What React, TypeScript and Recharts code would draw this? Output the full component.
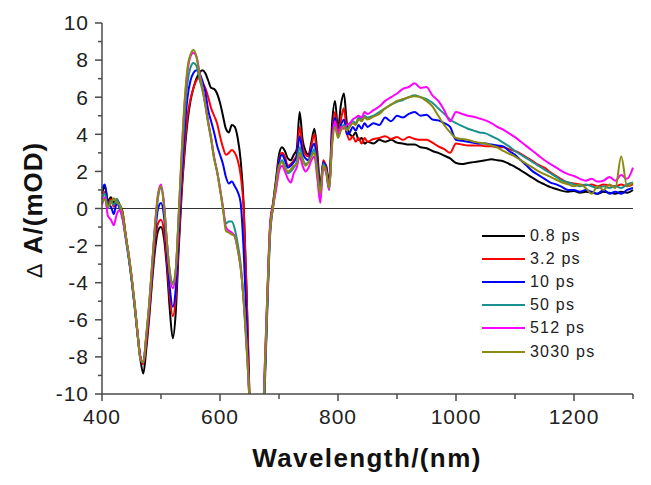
import React from 'react'
import {
  ComposedChart,
  Line,
  XAxis,
  YAxis,
  ReferenceLine,
  Legend,
} from 'recharts'

// wavelength grid (nm)
const wl = [
  400, 405, 410, 415, 420, 425, 430, 435, 440, 445, 450, 455, 460, 465, 470, 475, 480, 485, 490, 495,
  500, 505, 510, 515, 520, 525, 530, 535, 540, 545, 550, 555, 560, 565, 570, 575, 580, 585, 590, 595,
  600, 605, 610, 615, 620, 625, 630, 635, 640, 645, 650, 655, 660, 665, 670, 675, 680, 685, 690, 695,
  700, 705, 710, 715, 720, 725, 730, 735, 740, 745, 750, 755, 760, 765, 770, 775, 780, 785, 790, 795,
  800, 805, 810, 815, 820, 825, 830, 835, 840, 845, 850,
  860, 870, 880, 890, 900, 910, 920, 930, 940, 950, 960, 970, 980, 990, 1000, 1010, 1020, 1030, 1040,
  1050, 1060, 1070, 1080, 1090, 1100, 1110, 1120, 1130, 1140, 1150, 1160, 1170, 1180, 1190, 1200, 1210,
  1220, 1230, 1240, 1250, 1260, 1270, 1280, 1290, 1300,
]

const ps08 = [
  0.8, 1.2, 0.4, 0.6, 0.3, 0.5, 0.2, -0.2, -1.4, -2.5, -3.7, -5.1, -6.7, -8.1, -8.9, -7.6, -5.9, -3.9, -2.2, -1.2,
  -1.0, -1.6, -3.2, -5.5, -7.0, -5.6, -2.2, 0.8, 3.0, 4.7, 5.8, 6.5, 7.0, 7.3, 7.45, 7.3, 6.9, 6.5, 6.45, 6.2,
  5.7, 5.0, 4.3, 4.1, 4.5, 4.4, 3.8, 2.6, 0.3, -4.4, -10.2, -16, -22, -22, -16, -10, -5.2, -1.0, 0.3, 1.6,
  2.9, 3.3, 3.1, 2.7, 2.6, 2.9, 3.2, 5.2, 3.7, 3.1, 2.9, 3.6, 4.3, 3.0, 1.2, 2.5, 2.3, 1.4, 4.6, 5.8,
  4.3, 5.6, 6.2, 4.6, 4.0, 3.9, 4.1, 3.7, 3.8, 3.5, 3.6,
  3.5, 3.7, 3.6, 3.7, 3.55, 3.5, 3.45, 3.45, 3.3, 3.25, 3.1, 3.0, 2.85, 2.7, 2.45, 2.4, 2.45, 2.5, 2.55,
  2.6, 2.65, 2.6, 2.55, 2.4, 2.25, 2.05, 1.85, 1.65, 1.45, 1.3, 1.15, 1.05, 0.95, 0.9, 0.95, 0.85,
  0.9, 0.85, 0.8, 0.9, 0.85, 0.8, 0.9, 0.85, 1.0,
]

const ps32 = [
  0.5, 0.9, 0.2, 0.5, 0.1, 0.4, 0.1, -0.3, -1.4, -2.5, -3.7, -5.1, -6.6, -8.0, -8.4, -7.3, -5.7, -3.7, -1.8, -0.8,
  -0.6, -1.2, -2.8, -4.8, -5.8, -4.8, -1.8, 1.0, 3.3, 5.0, 5.9, 6.5, 6.9, 7.05, 6.8, 6.5, 6.0, 5.4, 5.0, 4.6,
  3.9, 3.3, 2.9, 3.0, 3.15, 3.0, 2.6, 1.8, 0.0, -4.5, -10.2, -16, -22, -22, -15, -9.4, -4.8, -0.8, 0.3, 1.4,
  2.6, 3.0, 2.8, 2.3, 2.4, 2.6, 2.9, 4.4, 3.3, 2.9, 2.8, 3.4, 4.0, 2.6, 0.9, 2.6, 2.2, 1.2, 4.0, 5.2,
  4.0, 4.8, 5.4, 4.1, 3.7, 3.9, 3.6, 3.8, 3.5, 3.8, 3.6,
  3.75, 3.8, 3.9, 3.75, 3.85, 3.7, 3.85, 3.75, 3.7, 3.7, 3.55, 3.35, 3.2, 3.0, 3.5, 3.45, 3.4, 3.4, 3.4,
  3.35, 3.35, 3.3, 3.3, 3.2, 3.1, 2.95, 2.75, 2.55, 2.35, 2.2, 1.95, 1.75, 1.55, 1.4, 1.35, 1.3,
  1.25, 1.3, 1.2, 1.3, 1.25, 1.2, 1.3, 1.2, 1.3,
]

const ps10 = [
  1.1, 1.3, 0.2, 0.1, -0.3, 0.3, 0.0, -0.5, -1.5, -2.6, -3.8, -5.2, -6.7, -8.0, -8.3, -7.0, -5.4, -3.4, -1.4, 0.0,
  0.3, -0.4, -2.3, -4.3, -5.3, -4.3, -1.3, 1.6, 4.2, 6.0, 6.9, 7.3, 7.45, 7.3, 6.9, 6.3, 5.3, 4.7, 4.1, 3.4,
  2.9, 2.4, 1.7, 1.35, 1.45, 1.2, 0.9, 0.3, -2.2, -6.0, -10.4, -16, -22, -22, -16, -10.5, -5.6, -1.4, 0.1, 1.3,
  2.5, 2.9, 2.6, 2.2, 2.3, 2.5, 2.8, 3.9, 3.0, 2.7, 2.6, 3.2, 3.5, 2.3, 0.8, 2.5, 2.1, 1.1, 3.8, 4.9,
  3.9, 4.5, 4.8, 4.0, 4.1, 4.4, 4.2, 4.5, 4.3, 4.6, 4.4,
  4.6, 4.5, 4.9, 4.7, 5.0, 4.9, 5.1, 5.2, 5.0, 5.05, 4.8, 4.75, 4.6, 4.4, 3.7, 3.65, 3.6, 3.55, 3.5,
  3.5, 3.45, 3.4, 3.35, 3.1, 2.9, 2.6, 2.3, 2.0, 1.8, 1.6, 1.4, 1.3, 1.15, 1.0, 1.0, 0.9,
  1.0, 0.9, 0.8, 1.0, 0.8, 0.9, 0.8, 1.0, 1.1,
]

const ps50 = [
  0.6, 0.8, 0.0, 0.4, 0.2, 0.5, 0.1, -0.5, -1.6, -2.6, -3.8, -5.2, -6.7, -8.1, -8.3, -6.9, -5.2, -3.1, -1.0, 0.6,
  1.1, 0.2, -1.8, -3.4, -4.0, -3.3, -0.5, 2.5, 5.0, 6.8, 7.6, 7.85, 7.7, 7.0, 6.4, 5.6, 4.6, 3.7, 2.7, 2.0,
  1.1, 0.0, -0.8, -0.7, -0.7, -1.1, -1.9, -3.0, -5.0, -7.5, -10.5, -16, -22, -22, -16, -10, -5.2, -1.1, 0.2, 1.2,
  2.2, 2.6, 2.3, 1.9, 2.0, 2.2, 2.5, 3.3, 2.7, 2.4, 2.5, 2.9, 3.2, 2.0, 0.7, 2.4, 2.0, 1.0, 3.6, 4.6,
  3.9, 4.3, 4.5, 4.3, 4.5, 4.7, 4.6, 4.9, 4.8, 5.0, 4.9,
  5.0, 5.2, 5.4, 5.6, 5.75, 5.85, 6.0, 6.1, 6.0, 5.9, 5.7, 5.4, 5.1, 4.8, 4.6, 4.45, 4.3, 4.2, 4.1,
  4.05, 3.9, 3.75, 3.55, 3.35, 3.1, 2.9, 2.7, 2.5, 2.3, 2.1, 1.9, 1.7, 1.5, 1.4, 1.3, 1.2,
  1.3, 1.2, 1.1, 1.2, 1.1, 1.2, 1.1, 1.3, 1.4,
]

const ps512 = [
  0.2, 0.6, -0.4, -0.6, -0.9, -0.3, -0.1, -0.6, -1.5, -2.4, -3.6, -5.0, -6.6, -8.0, -8.3, -6.9, -5.2, -3.0, -0.8, 0.8,
  1.3, 0.3, -1.8, -3.6, -4.3, -3.4, -0.4, 2.9, 5.6, 7.4, 8.2, 8.4, 8.2, 7.4, 6.6, 5.7, 4.7, 3.8, 2.8, 2.0,
  1.1, 0.1, -1.0, -1.2, -1.3, -1.5, -2.2, -3.2, -4.9, -7.3, -10.5, -16, -22, -22, -15, -9.3, -4.9, -1.0, 0.1, 1.0,
  2.0, 2.3, 2.0, 1.6, 1.4, 1.9, 2.2, 2.8, 2.3, 2.0, 2.2, 2.6, 2.8, 1.6, 0.3, 2.2, 1.9, 1.0, 3.6, 4.7,
  4.0, 4.4, 4.3, 4.5, 4.6, 4.8, 4.9, 5.0, 4.9, 5.2, 5.1,
  5.3, 5.5, 5.8, 6.0, 6.2, 6.45, 6.55, 6.75, 6.5, 6.55, 6.1, 5.8, 5.3, 4.7, 5.2, 5.1, 5.0, 4.95, 4.85,
  4.75, 4.6, 4.4, 4.25, 4.05, 3.85, 3.6, 3.35, 3.1, 2.85, 2.6, 2.4, 2.2, 2.0, 1.85, 1.75, 1.6,
  1.5, 1.6, 1.45, 1.5, 1.7, 1.5, 1.8, 1.6, 2.2,
]

const ps3030 = [
  0.3, 0.5, 0.1, 0.3, 0.55, 0.3, 0.2, -0.3, -1.4, -2.4, -3.6, -5.0, -6.6, -8.1, -8.3, -6.8, -5.1, -3.0, -0.9, 0.7,
  1.2, 0.2, -1.8, -3.5, -4.1, -3.3, -0.3, 3.0, 5.8, 7.6, 8.3, 8.55, 8.2, 7.3, 6.5, 5.6, 4.6, 3.8, 2.7, 2.0,
  1.0, 0.0, -1.2, -1.3, -1.4, -1.5, -2.2, -3.2, -4.9, -7.3, -10.5, -16, -22, -22, -16, -9.8, -5.0, -1.2, 0.1, 1.3,
  2.3, 2.5, 2.2, 2.0, 2.1, 2.3, 2.4, 3.0, 2.6, 2.3, 2.5, 2.8, 3.0, 1.9, 0.8, 2.3, 2.0, 1.1, 3.4, 4.4,
  3.8, 4.2, 4.4, 4.2, 4.4, 4.6, 4.5, 4.8, 4.7, 4.9, 4.8,
  4.95, 5.1, 5.4, 5.6, 5.8, 5.9, 6.0, 6.05, 6.0, 5.8, 5.5, 5.0, 4.5, 4.1, 3.8, 3.75, 3.7, 3.6, 3.55,
  3.5, 3.4, 3.3, 3.1, 2.95, 2.8, 2.6, 2.4, 2.2, 2.0, 1.85, 1.7, 1.55, 1.4, 1.3, 1.2, 1.3,
  1.1, 0.8, 1.2, 1.0, 1.3, 1.1, 2.8, 1.2, 1.4,
]

const seriesNames = ['0.8 ps', '3.2 ps', '10 ps', '50 ps', '512 ps', '3030 ps']
const xTicks = [400, 500, 600, 700, 800, 900, 1000, 1100, 1200, 1300]
const yTicks = [-10, -9, -8, -7, -6, -5, -4, -3, -2, -1, 0, 1, 2, 3, 4, 5, 6, 7, 8, 9, 10]

const data = wl.map((w, i) => ({
  wl: w,
  a: ps08[i],
  b: ps32[i],
  c: ps10[i],
  d: ps50[i],
  e: ps512[i],
  f: ps3030[i],
}))

const FONT = '"Liberation Sans", Arial, sans-serif'
const AXIS = '#4a4a4a'

const XTick = ({ x, y, payload }: any) => {
  const v = payload.value
  const major = v % 200 === 0
  const axisY = y - 7 - 8
  return (
    <g>
      <line x1={x} x2={x} y1={axisY} y2={axisY + (major ? 7 : 5)} stroke={AXIS} strokeWidth={1.5} />
      {major && (
        <text x={x} y={y} dy="0.71em" textAnchor="middle" fontSize={21} letterSpacing={1} fill="#222" fontFamily={FONT}>
          {v}
        </text>
      )}
    </g>
  )
}

const YTick = ({ x, y, payload }: any) => {
  const v = payload.value
  const major = v % 2 === 0
  const axisX = x + 7 + 6
  return (
    <g>
      <line x1={axisX} x2={axisX - (major ? 7 : 4)} y1={y} y2={y} stroke={AXIS} strokeWidth={1.5} />
      {major && (
        <text x={x} y={y} dy="0.35em" textAnchor="end" fontSize={21} letterSpacing={1} fill="#222" fontFamily={FONT}>
          {v}
        </text>
      )}
    </g>
  )
}

const renderLegend = (props: any) => {
  const items = [...(props.payload || [])].sort(
    (p: any, q: any) => seriesNames.indexOf(p.value) - seriesNames.indexOf(q.value)
  )
  return (
    <div style={{ fontFamily: FONT, fontSize: 16, letterSpacing: 1.2, color: '#222' }}>
      {items.map((p: any) => (
        <div key={p.value} style={{ display: 'flex', alignItems: 'center', height: 23.2 }}>
          <span style={{ display: 'inline-block', width: 43, height: 2, background: p.color, marginRight: 5 }} />
          <span>{p.value}</span>
        </div>
      ))}
    </div>
  )
}

export default function App() {
  return (
    <div style={{ position: 'absolute', left: 0, top: 0, width: 651, height: 485, background: '#fff' }}>
      <ComposedChart width={651} height={485} data={data} margin={{ top: 23, right: 18, bottom: 0, left: 0 }}>
        <XAxis
          dataKey="wl"
          type="number"
          domain={[400, 1300]}
          ticks={xTicks}
          interval={0}
          height={91}
          tickSize={7}
          tickMargin={8}
          tickLine={false}
          tick={<XTick />}
          axisLine={{ stroke: AXIS, strokeWidth: 1.5 }}
          label={{
            content: () => (
              <text x={367} y={467} textAnchor="middle" fontSize={26} fontWeight="bold" letterSpacing={1.4} fill="#111" fontFamily={FONT}>
                Wavelength/(nm)
              </text>
            ),
          }}
        />
        <XAxis
          xAxisId="top"
          orientation="top"
          type="number"
          domain={[400, 1300]}
          height={0}
          tick={false}
          tickLine={false}
          axisLine={{ stroke: AXIS, strokeWidth: 1.5 }}
        />
        <YAxis
          type="number"
          domain={[-10, 10]}
          allowDataOverflow
          ticks={yTicks}
          interval={0}
          width={102}
          tickSize={7}
          tickMargin={6}
          tickLine={false}
          tick={<YTick />}
          axisLine={{ stroke: AXIS, strokeWidth: 1.5 }}
          label={{
            content: () => (
              <text
                transform="translate(42, 210) rotate(-90)"
                textAnchor="middle"
                fontSize={26}
                fontWeight="bold"
                letterSpacing={1}
                fill="#111"
                fontFamily={FONT}
              >
                <tspan fontWeight="normal" fontSize={22}>Δ</tspan> A/(mOD)
              </text>
            ),
          }}
        />
        <YAxis
          yAxisId="right"
          orientation="right"
          type="number"
          domain={[-10, 10]}
          width={0}
          tick={false}
          tickLine={false}
          axisLine={{ stroke: AXIS, strokeWidth: 1.5 }}
        />
        <ReferenceLine y={0} stroke="#333" strokeWidth={1.2} />
        <Line type="monotone" dataKey="a" name={seriesNames[0]} stroke="#000000" strokeWidth={2} dot={false} isAnimationActive={false} />
        <Line type="monotone" dataKey="b" name={seriesNames[1]} stroke="#ff0000" strokeWidth={2} dot={false} isAnimationActive={false} />
        <Line type="monotone" dataKey="c" name={seriesNames[2]} stroke="#0000ff" strokeWidth={2} dot={false} isAnimationActive={false} />
        <Line type="monotone" dataKey="d" name={seriesNames[3]} stroke="#1a9090" strokeWidth={2} dot={false} isAnimationActive={false} />
        <Line type="monotone" dataKey="e" name={seriesNames[4]} stroke="#ff00ff" strokeWidth={2} dot={false} isAnimationActive={false} />
        <Line type="monotone" dataKey="f" name={seriesNames[5]} stroke="#8a8a10" strokeWidth={2} dot={false} isAnimationActive={false} />
        <Legend
          layout="vertical"
          align="center"
          verticalAlign="middle"
          content={renderLegend}
          wrapperStyle={{ left: 482, top: 224, width: 150, height: 140 }}
        />
      </ComposedChart>
    </div>
  )
}
